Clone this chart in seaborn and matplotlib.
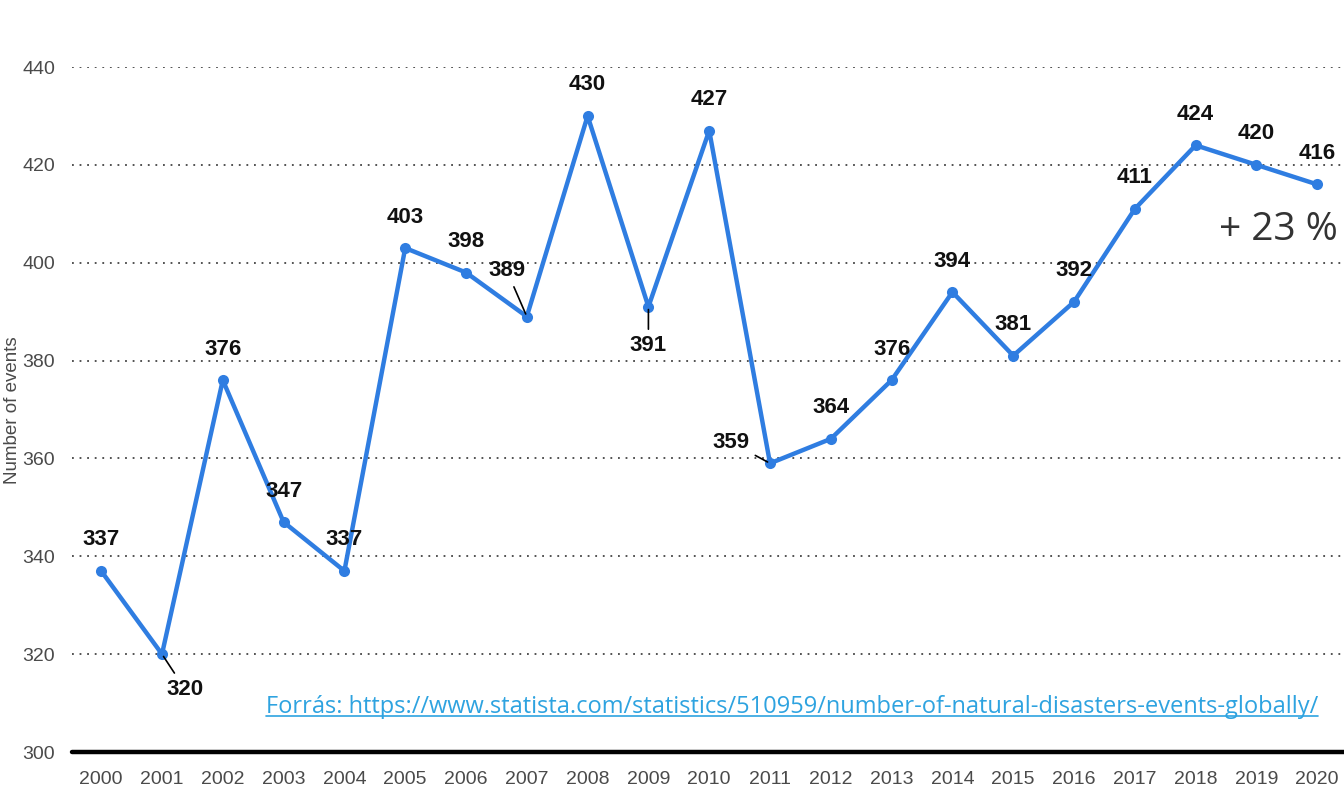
import matplotlib
matplotlib.use('Agg')
import matplotlib.pyplot as plt
import seaborn as sns
import pandas as pd
from matplotlib.lines import Line2D

# Data
years = list(range(2000, 2021))
events = [337, 320, 376, 347, 337, 403, 398, 389, 430, 391, 427,
          359, 364, 376, 394, 381, 392, 411, 424, 420, 416]
y_ticks = [300, 320, 340, 360, 380, 400, 420, 440]
source_text = 'Forrás: https://www.statista.com/statistics/510959/number-of-natural-disasters-events-globally/'
change_text = '+ 23 %'

# label offsets in pixels (default: straight above the point)
label_offsets = {2001: (23, -35), 2007: (-20, 46), 2009: (0, -39), 2011: (-39, 21)}
leader_years = {2001, 2007, 2009, 2011}

sns.set_style('white')
plt.rcParams['font.family'] = ['Liberation Sans', 'DejaVu Sans']

df = pd.DataFrame({'Year': years, 'Events': events})

fig = plt.figure(figsize=(13.44, 7.92), dpi=100)
ax = fig.add_axes([72 / 1344, 40 / 792, 1 - 72 / 1344, 685 / 792])

sns.lineplot(data=df, x='Year', y='Events', ax=ax, color='#2f7de1', linewidth=3.2,
             marker='o', markersize=8, markeredgewidth=0, zorder=3)

ax.set_xlim(1999.52, 2020.44)
ax.set_ylim(300, 440)
ax.set_yticks(y_ticks)
ax.set_xticks(years)
ax.set_xticklabels([str(y) for y in years])
for y in y_ticks[1:]:
    ax.axhline(y, color='#444444', linestyle=(0, (1, 3.2)), linewidth=1.3, zorder=1)
ax.axhline(300, color='black', linewidth=3.2, zorder=2, clip_on=False)

for s in ax.spines.values():
    s.set_visible(False)
ax.tick_params(axis='both', length=0, labelsize=14, labelcolor='#4a4a4a')
ax.tick_params(axis='y', pad=12)
ax.tick_params(axis='x', pad=14)
ax.set_xlabel('')
ax.set_ylabel('')
fig.text(13 / 1344, 1 - 410 / 792, 'Number of events', rotation=90, ha='center', va='center',
         fontsize=13.5, color='#4a4a4a')

for yr, val in zip(years, events):
    dx, dy = label_offsets.get(yr, (0, 31))
    props = dict(arrowstyle='-', color='black', lw=1.2, shrinkA=2, shrinkB=2) if yr in leader_years else None
    ax.annotate(str(val), xy=(yr, val), xytext=(dx, dy), textcoords='offset pixels',
                ha='center', va='center', fontsize=16, fontweight='bold',
                color='#111111', arrowprops=props, zorder=4)

fig.text(1278 / 1344, 1 - 230 / 792, change_text, ha='center', va='center',
         fontsize=28, color='#333333', family=['Open Sans', 'DejaVu Sans'])

src = fig.text(792 / 1344, 1 - 707 / 792, source_text, ha='center', va='center',
               fontsize=17, color='#2ea3e0', family=['Open Sans', 'DejaVu Sans'])

fig.canvas.draw()
bb = src.get_window_extent()
uy = (bb.y0 + 3) / fig.bbox.height
fig.add_artist(Line2D([bb.x0 / fig.bbox.width, bb.x1 / fig.bbox.width], [uy, uy],
                      color='#2ea3e0', linewidth=1.2, transform=fig.transFigure))

fig.savefig('out.png', dpi=100)
